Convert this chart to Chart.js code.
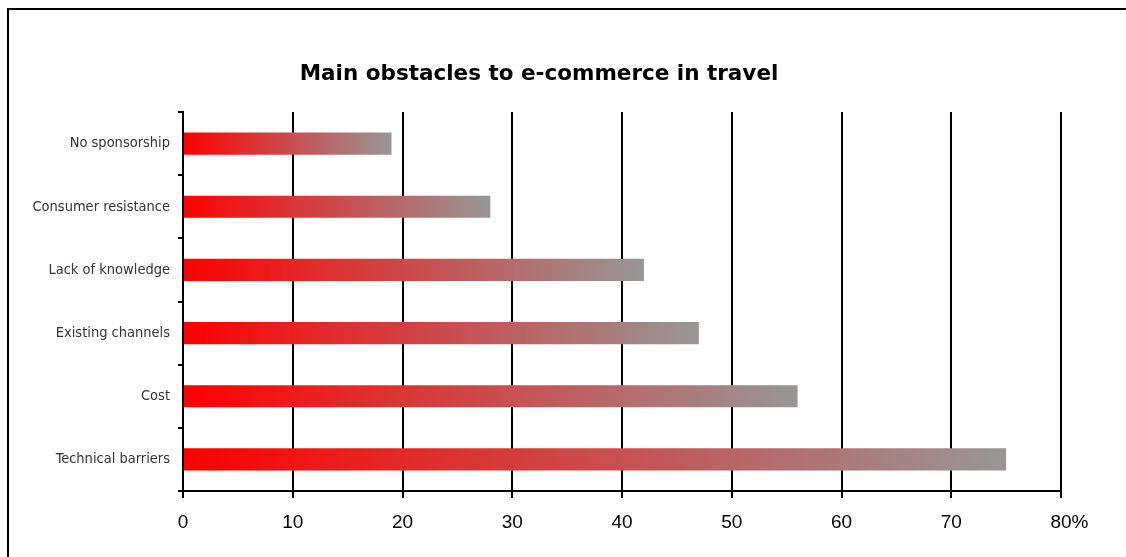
<!DOCTYPE html>
<html>
<head>
<meta charset="utf-8">
<title>Main obstacles to e-commerce in travel</title>
<script src="https://cdn.jsdelivr.net/npm/chart.js@4/dist/chart.umd.min.js"></script>
<style>
    html, body { margin: 0; padding: 0; background: #fff; overflow: hidden; }
    #frame {
        position: absolute; left: 7px; top: 8px; width: 1200px; height: 600px;
        border-left: 2px solid #000; border-top: 2px solid #000;
    }
    #wrap { position: absolute; left: 0; top: 0; width: 1126px; height: 557px; }
</style>
</head>
<body>
<div id="frame"></div>
<div id="wrap"><canvas id="obstacles-chart" width="1126" height="557"></canvas></div>
<script>
// データ
const TITLE = 'Main obstacles to e-commerce in travel';
const categories = ['No sponsorship', 'Consumer resistance', 'Lack of knowledge', 'Existing channels', 'Cost', 'Technical barriers'];
const shares = [19, 28, 42, 47, 56, 75];
const axisTicks = [0, 10, 20, 30, 40, 50, 60, 70, 80];
const axisUnit = '%';

const LABEL_FONT = { family: '"DejaVu Sans Condensed", "DejaVu Sans", sans-serif', size: 14.5 };
const TICK_FONT = { family: '"Liberation Sans", Arial, sans-serif', size: 19 };
const TITLE_FONT = 'bold 21.5px "DejaVu Sans", sans-serif';

/**
 * 棒ごとに左端の赤から右端のグレーへ変わるグラデーションを作る
 */
function barGradient(context) {
    const chart = context.chart;
    if (!chart.chartArea) return '#ff0000';
    const xScale = chart.scales.x;
    const x0 = xScale.getPixelForValue(0);
    const x1 = xScale.getPixelForValue(context.raw);
    const grad = chart.ctx.createLinearGradient(x0, 0, x1, 0);
    grad.addColorStop(0, '#ff0000');
    grad.addColorStop(1, '#989696');
    return grad;
}

// タイトルと「%」の描画、棒の上にY軸線を引き直す
const decorations = {
    id: 'decorations',
    afterDatasetsDraw(chart) {
        const { ctx, chartArea } = chart;
        ctx.save();
        ctx.strokeStyle = '#000';
        ctx.lineWidth = 2;
        ctx.beginPath();
        ctx.moveTo(chartArea.left, chartArea.top);
        ctx.lineTo(chartArea.left, chartArea.bottom);
        ctx.stroke();
        ctx.restore();
    },
    afterDraw(chart) {
        const ctx = chart.ctx;
        const xScale = chart.scales.x;
        ctx.save();
        ctx.fillStyle = '#000';
        ctx.font = TITLE_FONT;
        ctx.textAlign = 'center';
        ctx.textBaseline = 'alphabetic';
        ctx.fillText(TITLE, 539, 80);

        // 最後の目盛ラベルの後ろに単位を付ける
        const last = axisTicks[axisTicks.length - 1];
        ctx.font = `${TICK_FONT.size}px ${TICK_FONT.family}`;
        const half = ctx.measureText(String(last)).width / 2;
        const opts = xScale.options;
        const y = xScale.top + opts.grid.tickLength + opts.ticks.padding + TICK_FONT.size * 1.2 / 2;
        ctx.textAlign = 'left';
        ctx.textBaseline = 'middle';
        ctx.fillText(axisUnit, xScale.getPixelForValue(last) + half, y);
        ctx.restore();
    }
};

new Chart(document.getElementById('obstacles-chart'), {
    type: 'bar',
    data: {
        labels: categories,
        datasets: [{
            data: shares,
            backgroundColor: barGradient,
            borderWidth: 0,
            categoryPercentage: 1,
            barPercentage: 0.35
        }]
    },
    options: {
        indexAxis: 'y',
        responsive: false,
        animation: false,
        events: [],
        layout: { padding: { top: 112, right: 65, bottom: 0, left: 0 } },
        plugins: {
            legend: { display: false },
            title: { display: false },
            tooltip: { enabled: false }
        },
        scales: {
            x: {
                min: 0,
                max: 80,
                afterBuildTicks(scale) {
                    scale.ticks = axisTicks.map(v => ({ value: v }));
                },
                afterFit(scale) { scale.height = 66; },
                grid: { color: '#000', lineWidth: 2, tickLength: 7, drawOnChartArea: true },
                border: { color: '#000', width: 2 },
                ticks: { color: '#000', font: TICK_FONT, padding: 13, maxRotation: 0 }
            },
            y: {
                afterFit(scale) { scale.width = 183; },
                grid: { color: '#000', lineWidth: 2, tickLength: 5, drawOnChartArea: false, offset: true },
                border: { color: '#000', width: 2 },
                ticks: { color: '#333', font: LABEL_FONT, padding: 8 }
            }
        }
    },
    plugins: [decorations]
});
</script>
</body>
</html>
